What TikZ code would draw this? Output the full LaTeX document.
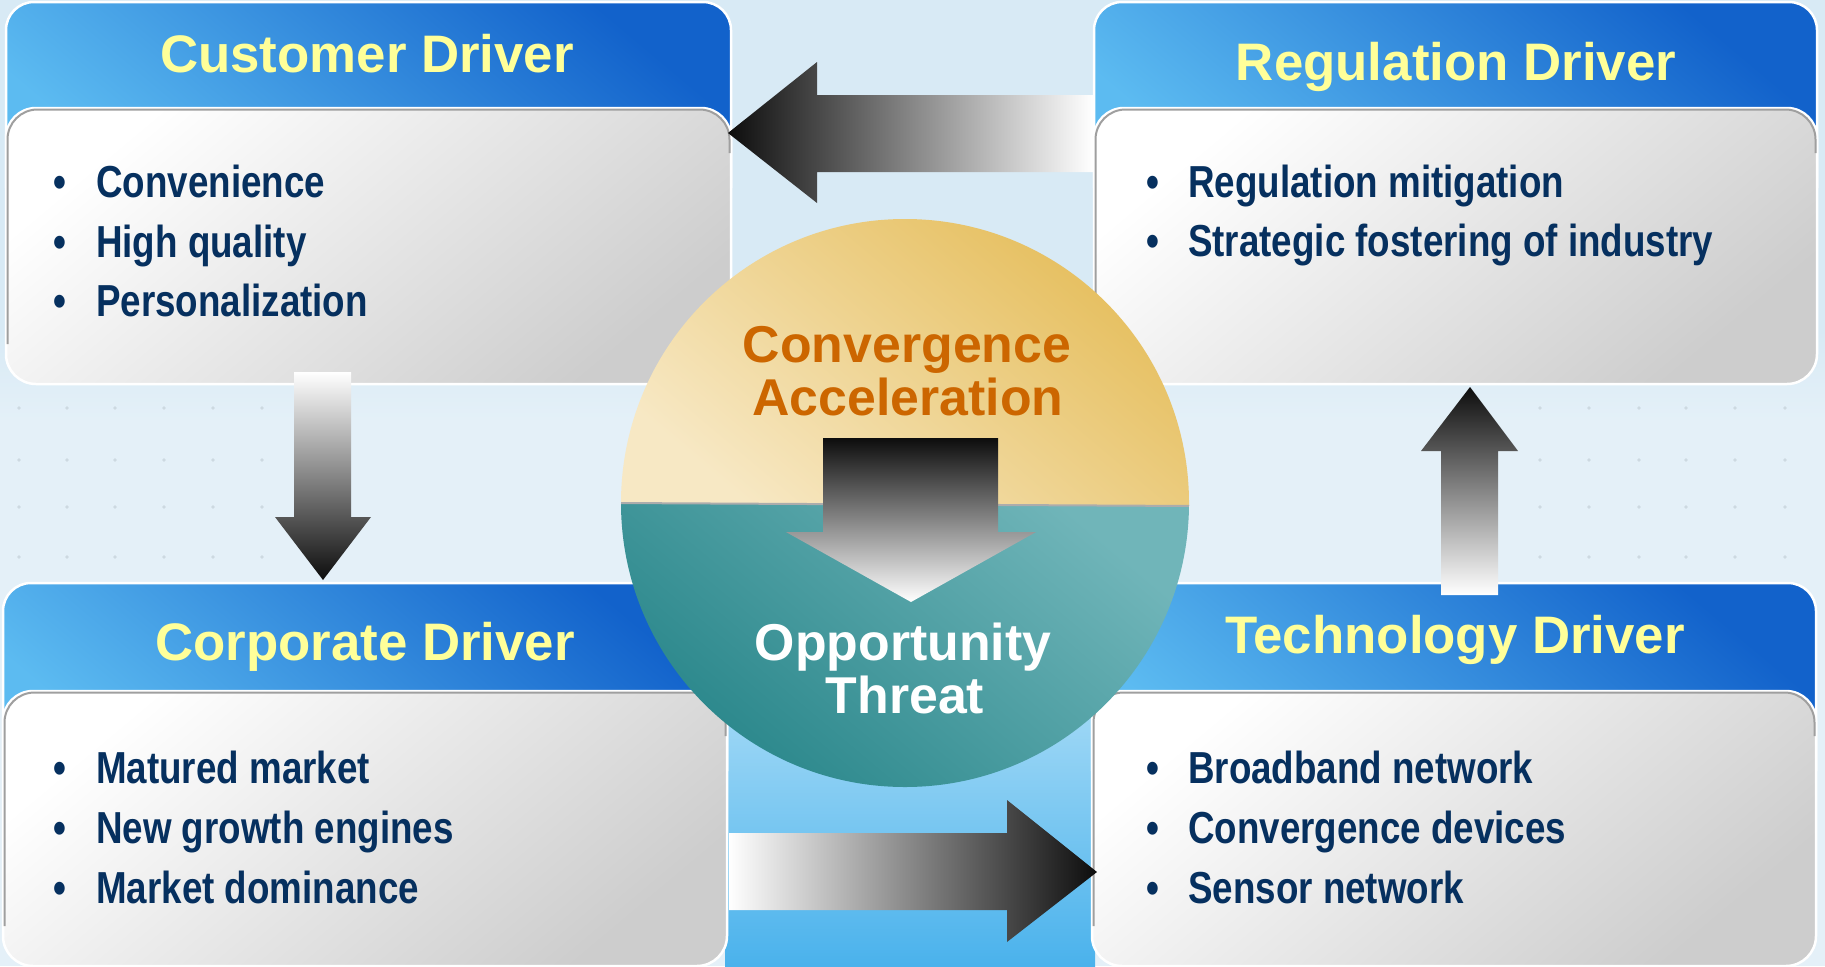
\documentclass[tikz,border=0pt]{standalone}
\usepackage{fontspec}
\setmainfont{Liberation Sans}
\newfontfamily\narrowfont[FakeStretch=0.82]{Liberation Sans}
\usetikzlibrary{calc}
\definecolor{hdrY}{HTML}{FFFF99}
\definecolor{navy}{HTML}{06305F}
\definecolor{orng}{HTML}{CC6600}
\definecolor{hdrD}{HTML}{1262CB}
\definecolor{hdrL}{HTML}{5CBBF1}
\definecolor{bodyD}{HTML}{CDCDCD}
\definecolor{bgTop}{HTML}{D8EAF5}
\definecolor{bgMid}{HTML}{E4F0F8}
\definecolor{stripT}{HTML}{B6E2F8}
\definecolor{stripB}{HTML}{4AB2EC}
\definecolor{goldD}{HTML}{E5BD5A}
\definecolor{goldL}{HTML}{F7E8C4}
\definecolor{tealD}{HTML}{278589}
\definecolor{tealL}{HTML}{70B5B9}
\definecolor{dotc}{HTML}{CDD9E1}
\tikzset{
  titletext/.style={font=\fontsize{53}{53}\selectfont\bfseries, text=hdrY, anchor=base, inner sep=0pt},
  itemtext/.style={font=\narrowfont\fontsize{45}{45}\selectfont\bfseries, text=navy, anchor=base west, inner sep=0pt},
  bullettext/.style={font=\narrowfont\fontsize{45}{45}\selectfont\bfseries, text=navy, anchor=base, inner sep=0pt},
  circtext/.style={font=\fontsize{52}{52}\selectfont\bfseries, anchor=base, inner sep=0pt},
  hdrshade/.style={top color=hdrD, bottom color=hdrL, shading angle=-40, rounded corners=28bp},
  bodyshade/.style={top color=white, bottom color=bodyD, shading angle=40, rounded corners=30bp},
  outline/.style={white, line width=2.5bp},
  bevel/.style={draw=gray!75, line width=2bp},
  blockarrow/.style={draw=none}
}
\newcommand\DrvBox[5]{%
  \shade[hdrshade] (#1,#2) rectangle (#3,#5+80);
  \draw[outline, rounded corners=28bp] (#1,#5+80) -- (#1,#2) -- (#3,#2) -- (#3,#5+80);
  \shade[bodyshade] (#1,#5) rectangle (#3,#4);
  \draw[outline, rounded corners=30bp] (#1,#5) rectangle (#3,#4);
  \draw[bevel, rounded corners=30bp] (#1+1.5,#4-40) -- (#1+1.5,#5+1.5) -- (#3-1.5,#5+1.5) -- (#3-1.5,#5+45);
}
\begin{document}
\begin{tikzpicture}[x=1bp,y=-1bp]
\useasboundingbox (0,0) rectangle (1825,966);
% background
\fill[bgMid] (0,0) rectangle (1825,966);
\fill[bgTop] (0,0) rectangle (1825,390);
\shade[top color=bgTop, bottom color=bgMid] (0,330) rectangle (1825,420);
\shade[top color=stripT, bottom color=stripB] (725,640) rectangle (1095,966);
% faint dots
\foreach \x in {19,67,115,164,213,262} \foreach \y in {408,460,507,557}
  \fill[dotc] (\x,\y) circle[radius=1.8bp];
\foreach \x in {1540,1589,1639,1686,1735,1785} \foreach \y in {408,460,507,557}
  \fill[dotc] (\x,\y) circle[radius=1.8bp];

% boxes
\DrvBox{6}{2}{731}{384}{108}
\DrvBox{1094}{2}{1817}{384}{108}
\DrvBox{3}{583}{727}{966}{691}
\DrvBox{1092}{583}{1816}{966}{691}

% titles
\node[titletext] (custT) at (367,72) {Customer Driver};
\node[titletext] (regT) at (1456,80) {Regulation Driver};
\node[titletext] (corpT) at (365,660) {Corporate Driver};
\node[titletext] (techT) at (1455,653) {Technology Driver};

% bullets - customer
\node[bullettext] (cb1) at (60,197) {•};
\node[itemtext] (c1) at (96,197) {Convenience};
\node[bullettext] (cb2) at (60,257) {•};
\node[itemtext] (c2) at (96,257) {High quality};
\node[bullettext] (cb3) at (60,316) {•};
\node[itemtext] (c3) at (96,316) {Personalization};
% regulation
\node[bullettext] (rb1) at (1153,197) {•};
\node[itemtext] (r1) at (1188,197) {Regulation mitigation};
\node[bullettext] (rb2) at (1153,256) {•};
\node[itemtext] (r2) at (1188,256) {Strategic fostering of industry};
% corporate
\node[bullettext] (pb1) at (60,783) {•};
\node[itemtext] (p1) at (96,783) {Matured market};
\node[bullettext] (pb2) at (60,843) {•};
\node[itemtext] (p2) at (96,843) {New growth engines};
\node[bullettext] (pb3) at (60,903) {•};
\node[itemtext] (p3) at (96,903) {Market dominance};
% technology
\node[bullettext] (tb1) at (1153,783) {•};
\node[itemtext] (t1) at (1188,783) {Broadband network};
\node[bullettext] (tb2) at (1153,843) {•};
\node[itemtext] (t2) at (1188,843) {Convergence devices};
\node[bullettext] (tb3) at (1153,903) {•};
\node[itemtext] (t3) at (1188,903) {Sensor network};

% block arrows between boxes
\shade[blockarrow, left color=black!95, right color=white]
  (728,133) -- (817,62) -- (817,95) -- (1093,95) -- (1093,172) -- (817,172) -- (817,203) -- cycle;
\shade[blockarrow, left color=white, right color=black!95]
  (729,833) -- (1007,833) -- (1007,800) -- (1097,872) -- (1007,942) -- (1007,910) -- (729,910) -- cycle;
\shade[blockarrow, top color=white, bottom color=black!95]
  (294,372) -- (351,372) -- (351,517) -- (371,517) -- (323,580) -- (275,517) -- (294,517) -- cycle;
\shade[blockarrow, top color=black!95, bottom color=white]
  (1441,595) -- (1441,451) -- (1421,451) -- (1470,387) -- (1518,451) -- (1498,451) -- (1498,595) -- cycle;

% central circle
\begin{scope}
  \clip (905,503) circle[radius=284bp];
  \shade[top color=goldD, bottom color=goldL, shading angle=-40]
    (615,215) -- (1195,215) -- (1195,506) -- (615,503) -- cycle;
  \shade[top color=tealL, bottom color=tealD, shading angle=-40]
    (615,503) -- (1195,506) -- (1195,792) -- (615,792) -- cycle;
  \draw[gray!65, line width=2bp] (615,503) -- (1195,506);
\end{scope}
\node[circtext, text=orng] (conv) at (907,362) {Convergence};
\node[circtext, text=orng] (accel) at (908,415) {Acceleration};
\shade[blockarrow, top color=black!95, bottom color=white]
  (823,438) -- (998,438) -- (998,532) -- (1036,532) -- (911,602) -- (786,532) -- (823,532) -- cycle;
\node[circtext, text=white] (opp) at (903,660) {Opportunity};
\node[circtext, text=white] (thr) at (905,713) {Threat};
\end{tikzpicture}
\end{document}
